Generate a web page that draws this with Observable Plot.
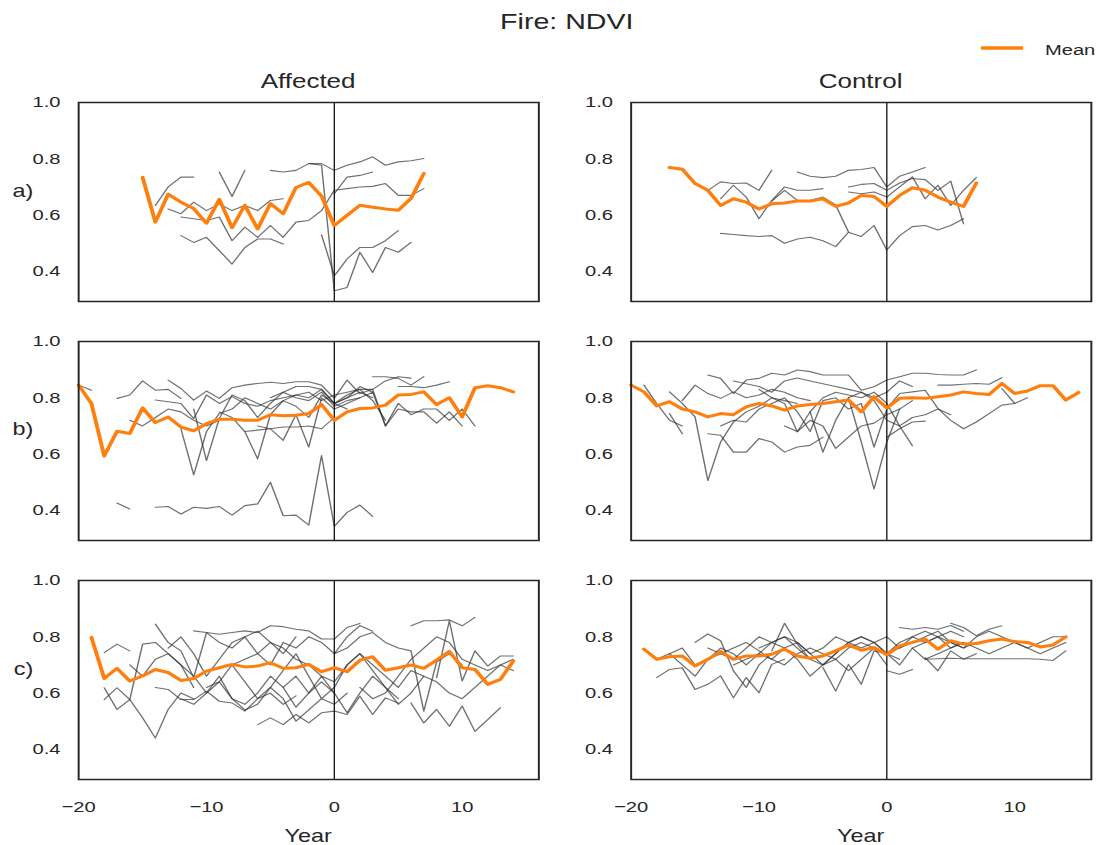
<!DOCTYPE html>
<html><head><meta charset="utf-8">
<script src="https://cdn.jsdelivr.net/npm/d3@7"></script>
<script src="https://cdn.jsdelivr.net/npm/@observablehq/plot@0.6"></script>
<style>
html,body{margin:0;padding:0;background:#fff;overflow:hidden;width:1107px;height:845px;}
#fig{position:absolute;left:0;top:0;width:851.5px;height:845px;transform:scale(1.3,1);transform-origin:0 0;font-family:"Liberation Sans",Arial,sans-serif;color:#262626;}
#fig svg{position:absolute;}
</style></head><body><div id="fig"></div><script>
// ---------- data (year offset relative to fire, NDVI) ----------
const columns = ["Affected", "Control"];
const rowLabels = ["a)", "b)", "c)"];
const xTicks = [-20, -10, 0, 10];
const yTicks = [0.4, 0.6, 0.8, 1.0];

// each series: s = first year, v = yearly NDVI values
const affectedA_mean = {s: -15, v: [0.734,0.575,0.674,0.646,0.623,0.571,0.656,0.555,0.635,0.551,0.641,0.605,0.698,0.716,0.667,0.563,0.599,0.635,0.628,0.622,0.617,0.659,0.748]};
const affectedA_sites = [
  {s: -14, v: [0.634,0.700,0.735,0.735]},
  {s: -9, v: [0.753,0.666,0.759]},
  {s: -13, v: [0.622,0.605,0.646,0.616,0.640,0.616,0.634,0.616,0.652,0.658]},
  {s: -12, v: [0.593,0.587,0.581,0.593,0.509,0.557,0.521,0.563,0.521,0.575,0.581,0.616,0.688,0.694,0.700,0.702,0.712,0.670,0.670,0.694]},
  {s: -12, v: [0.527,0.503,0.521,0.474,0.426,0.485,0.515,0.515,0.497]},
  {s: -5, v: [0.759,0.753,0.759,0.783,0.783,0.759,0.777,0.789,0.807,0.777,0.789,0.793,0.801]},
  {s: -2, v: [0.783,0.777,0.331,0.343,0.468,0.396,0.485,0.468,0.503]},
  {s: -1, v: [0.530,0.384,0.444,0.485,0.485,0.509,0.545]},
  {s: 0, v: [0.676,0.735,0.741,0.753]}
];

const controlA_mean = {s: -17, v: [0.769,0.763,0.712,0.688,0.634,0.658,0.646,0.622,0.640,0.643,0.650,0.650,0.658,0.631,0.643,0.670,0.666,0.631,0.670,0.697,0.688,0.664,0.646,0.631,0.714]};
const controlA_sites = [
  {s: -13, v: [0.535,0.531,0.527,0.524,0.527,0.500,0.515,0.521,0.509,0.488,0.539,0.524,0.563,0.476,0.527,0.559,0.563,0.547,0.563,0.587]},
  {s: -7, v: [0.753,0.738,0.733,0.738,0.759,0.762,0.769,0.700,0.738,0.753,0.769]},
  {s: -14, v: [0.688,0.718,0.712,0.714,0.688,0.759]},
  {s: -13, v: [0.658,0.706,0.664,0.587,0.652,0.700,0.688,0.688,0.694]},
  {s: -9, v: [0.650,0.688,0.652,0.652,0.664,0.636,0.540]},
  {s: -3, v: [0.700,0.709,0.712,0.688,0.714,0.730,0.726,0.688,0.721,0.569]},
  {s: -3, v: [0.682,0.676,0.682,0.664,0.700,0.736,0.658,0.706,0.634,0.688,0.733]}
];

const affectedB_mean = {s: -20, v: [0.845,0.780,0.593,0.681,0.673,0.764,0.712,0.732,0.696,0.683,0.708,0.724,0.724,0.720,0.720,0.740,0.736,0.738,0.744,0.776,0.720,0.750,0.762,0.764,0.774,0.810,0.812,0.821,0.776,0.800,0.732,0.836,0.843,0.836,0.821]};
const affectedB_sites = [
  {s: -17, v: [0.426,0.405]},
  {s: -14, v: [0.411,0.414,0.387,0.411,0.407,0.414,0.383,0.417,0.423,0.500,0.381,0.383,0.348,0.595,0.343,0.393,0.419,0.379]},
  {s: -20, v: [0.845,0.827]},
  {s: -17, v: [0.798,0.810,0.860,0.827,0.830,0.798]},
  {s: -13, v: [0.863,0.833,0.792,0.824,0.798,0.836,0.845,0.851,0.855,0.851,0.857,0.857,0.845,0.798,0.863,0.815,0.830,0.860,0.875,0.870]},
  {s: -14, v: [0.792,0.786,0.780,0.726,0.810,0.780,0.804,0.780,0.770,0.790,0.800,0.810,0.820,0.790,0.810,0.820,0.830,0.790,0.720]},
  {s: -12, v: [0.690,0.526,0.680,0.744,0.760,0.800,0.780,0.760,0.790,0.810,0.800,0.830,0.780,0.800,0.820,0.800]},
  {s: -11, v: [0.760,0.577,0.726,0.810,0.790,0.730,0.780,0.820,0.800,0.790,0.820,0.770,0.790,0.800,0.820,0.700,0.780,0.740,0.760,0.760,0.720,0.760,0.700]},
  {s: -9, v: [0.750,0.730,0.680,0.583,0.740,0.790,0.770,0.730,0.810,0.780,0.760]},
  {s: -6, v: [0.700,0.690,0.649,0.740,0.625,0.800,0.760,0.780,0.800]},
  {s: -7, v: [0.680,0.685,0.690,0.696,0.696,0.700,0.690,0.730]},
  {s: 0, v: [0.780,0.810,0.830,0.830,0.700,0.760,0.750,0.750,0.710,0.750,0.700]},
  {s: 3, v: [0.875,0.875,0.869,0.845,0.875]},
  {s: 5, v: [0.840,0.840,0.836,0.845,0.857]},
  {s: -16, v: [0.720,0.700,0.730,0.760,0.750,0.720,0.700,0.720]},
  {s: -5, v: [0.800,0.820,0.840,0.840,0.830,0.780,0.800,0.840,0.820]}
];

const controlB_mean = {s: -20, v: [0.845,0.821,0.771,0.786,0.760,0.750,0.732,0.744,0.740,0.768,0.780,0.771,0.756,0.771,0.776,0.780,0.786,0.792,0.750,0.804,0.764,0.798,0.800,0.798,0.804,0.810,0.821,0.815,0.812,0.851,0.815,0.824,0.843,0.843,0.792,0.819]};
const controlB_sites = [
  {s: -19, v: [0.845,0.780,0.720,0.700]},
  {s: -17, v: [0.821,0.780,0.732,0.506,0.643,0.714,0.750,0.770,0.800,0.790,0.780]},
  {s: -17, v: [0.744,0.672]},
  {s: -16, v: [0.790,0.845,0.815,0.798,0.821,0.800,0.810,0.830,0.820,0.800,0.790]},
  {s: -14, v: [0.881,0.869,0.815,0.863,0.869,0.887,0.881,0.899,0.893,0.881,0.881,0.881,0.827,0.839,0.863,0.875,0.887,0.887,0.883,0.881,0.881,0.899]},
  {s: -14, v: [0.672,0.667,0.607,0.607,0.655,0.643,0.607,0.625,0.631,0.660]},
  {s: -13, v: [0.700,0.720,0.714,0.760,0.780,0.800,0.750,0.680,0.790,0.800,0.760,0.780,0.625,0.760,0.800]},
  {s: -6, v: [0.750,0.607,0.720,0.800,0.643,0.476,0.643,0.760,0.790]},
  {s: -10, v: [0.830,0.800,0.780,0.679,0.750,0.800,0.820,0.810,0.800,0.820,0.780,0.700,0.630]},
  {s: 0, v: [0.660,0.690,0.714,0.717]},
  {s: 0, v: [0.762,0.815,0.821,0.827,0.762,0.720,0.690,0.714,0.744,0.774,0.780]},
  {s: 4, v: [0.845,0.845,0.848,0.851,0.848,0.871]},
  {s: 9, v: [0.833,0.780,0.800]},
  {s: -12, v: [0.860,0.850,0.840,0.820,0.860,0.870,0.860,0.850,0.840,0.830,0.820,0.800,0.820,0.860,0.840]},
  {s: -3, v: [0.800,0.820,0.790,0.720,0.700,0.730,0.740,0.760,0.740]},
  {s: -8, v: [0.700,0.680,0.720,0.700,0.620,0.660,0.700,0.710,0.740,0.760]}
];

const affectedC_mean = {s: -19, v: [0.798,0.652,0.688,0.643,0.661,0.684,0.673,0.645,0.652,0.678,0.690,0.702,0.693,0.696,0.708,0.688,0.690,0.702,0.676,0.690,0.676,0.717,0.729,0.681,0.690,0.700,0.688,0.717,0.748,0.690,0.684,0.631,0.649,0.714]};
const affectedC_sites = [
  {s: -18, v: [0.744,0.774,0.750]},
  {s: -18, v: [0.577,0.619,0.577,0.512,0.440,0.542,0.600,0.580]},
  {s: -18, v: [0.619,0.542,0.577,0.774,0.780,0.740,0.700,0.620]},
  {s: -14, v: [0.845,0.780,0.750,0.655,0.815,0.780,0.760,0.800,0.820,0.780,0.740,0.800]},
  {s: -11, v: [0.821,0.815,0.809,0.815,0.821,0.815,0.839,0.836,0.827,0.821,0.792,0.792,0.833,0.847]},
  {s: -14, v: [0.620,0.613,0.577,0.577,0.607,0.571,0.565,0.536,0.580,0.600,0.560,0.590]},
  {s: -6, v: [0.488,0.512,0.488,0.524,0.494,0.530,0.536,0.524,0.589,0.524,0.583,0.565]},
  {s: 6, v: [0.839,0.857,0.857,0.860,0.839,0.869]},
  {s: 6, v: [0.565,0.494,0.542,0.482,0.554,0.464,0.506,0.548]},
  {s: 8, v: [0.655,0.857,0.643,0.750,0.696,0.732,0.732]},
  {s: 0, v: [0.740,0.760,0.800,0.815,0.780,0.760,0.750,0.536,0.710,0.740,0.700]},
  {s: -16, v: [0.700,0.660,0.720,0.740,0.700,0.660,0.600,0.640,0.700,0.720,0.740,0.780,0.760,0.720,0.700,0.660,0.600]},
  {s: -10, v: [0.620,0.640,0.580,0.560,0.600,0.660,0.620,0.550,0.600,0.640,0.600,0.530,0.600,0.660,0.620,0.580]},
  {s: -13, v: [0.760,0.800,0.740,0.660,0.720,0.780,0.800,0.740,0.700,0.780,0.760,0.800,0.780,0.740,0.800,0.840,0.820]},
  {s: -8, v: [0.700,0.640,0.580,0.620,0.680,0.740,0.660,0.580,0.620,0.700,0.740,0.680,0.620,0.560,0.600,0.660]},
  {s: -4, v: [0.620,0.660,0.600,0.660,0.640,0.700,0.740,0.700,0.660,0.620,0.680,0.660,0.640,0.600,0.580,0.620,0.660,0.700,0.680]},
  {s: 2, v: [0.620,0.580,0.600,0.660,0.720,0.760,0.800,0.780,0.720,0.700,0.680,0.700,0.720]},
  {s: -12, v: [0.580,0.560,0.600,0.660,0.580,0.540,0.560,0.620,0.580,0.500,0.540,0.580,0.560,0.600]}
];

const controlC_mean = {s: -19, v: [0.756,0.720,0.729,0.732,0.696,0.720,0.748,0.720,0.732,0.732,0.738,0.756,0.732,0.724,0.732,0.750,0.771,0.752,0.762,0.736,0.768,0.780,0.792,0.756,0.786,0.774,0.776,0.786,0.792,0.783,0.780,0.764,0.771,0.800]};
const controlC_sites = [
  {s: -18, v: [0.655,0.684,0.690,0.613,0.631,0.661,0.583,0.655,0.601,0.702,0.720]},
  {s: -15, v: [0.780,0.810,0.786,0.679,0.620,0.700,0.740]},
  {s: -9, v: [0.750,0.848,0.774,0.720]},
  {s: -5, v: [0.691,0.607,0.702,0.631,0.750,0.740,0.720]},
  {s: 0, v: [0.679,0.667,0.684]},
  {s: 3, v: [0.726,0.679,0.750,0.720,0.740]},
  {s: 3, v: [0.720,0.722,0.724,0.722,0.722,0.722,0.722,0.722,0.722,0.720,0.716,0.750]},
  {s: 5, v: [0.848,0.833,0.804,0.827,0.839]},
  {s: 1, v: [0.833,0.827,0.833,0.827,0.840,0.820]},
  {s: -18, v: [0.720,0.740,0.760,0.700,0.720,0.740,0.760,0.780,0.750,0.720,0.760,0.780,0.740,0.700,0.720,0.760,0.780,0.760,0.700]},
  {s: -17, v: [0.740,0.700,0.660,0.720,0.760,0.740,0.700,0.740,0.780,0.800,0.760,0.720,0.700,0.740,0.780,0.800,0.780,0.740]},
  {s: -14, v: [0.760,0.740,0.720,0.760,0.800,0.780,0.760,0.720,0.660,0.700,0.740,0.780,0.800,0.780,0.740,0.760,0.800,0.780,0.800,0.820,0.800]},
  {s: -12, v: [0.700,0.720,0.740,0.720,0.700,0.740,0.760,0.740,0.720,0.680,0.720,0.760,0.740,0.700,0.760,0.780,0.800,0.760,0.780]},
  {s: 0, v: [0.740,0.780,0.800,0.820,0.800,0.780,0.760,0.800,0.820,0.800,0.780,0.760,0.780,0.800,0.800]},
  {s: -10, v: [0.760,0.780,0.800,0.780,0.740,0.760,0.800,0.780,0.760,0.780,0.800,0.760,0.780,0.800,0.820,0.780,0.760,0.780]},
  {s: 2, v: [0.760,0.720,0.740,0.760,0.780,0.760,0.740,0.760,0.780,0.760,0.740,0.760,0.780]}
];

// ---------- layout ----------
const SX = 1.3;                 // horizontal stretch of the original figure
const fig = document.getElementById("fig");
const panelW = 354, panelH = 199, mL = 60, mR = 10, mT = 10;
const colLeft = [60, 485];
const rowTop = [102, 340.5, 580];

const panels = [
  [[affectedA_mean, affectedA_sites], [controlA_mean, controlA_sites]],
  [[affectedB_mean, affectedB_sites], [controlB_mean, controlB_sites]],
  [[affectedC_mean, affectedC_sites], [controlC_mean, controlC_sites]]
];

const expand = (d, id) => d.v.map((v, j) => ({id, year: d.s + j, value: v}));
const fmtX = d => d < 0 ? "\u2212" + Math.abs(d) : String(d);

panels.forEach((row, r) => {
  row.forEach(([mean, sites], c) => {
    const bottom = r === 2;
    const mB = bottom ? 45 : 10;
    const siteRows = sites.flatMap((d, i) => expand(d, i));
    const meanRows = expand(mean, 0);
    const chart = Plot.plot({
      width: panelW + mL + mR,
      height: panelH + mT + mB,
      marginLeft: mL, marginRight: mR, marginTop: mT, marginBottom: mB,
      style: {fontFamily: "'Liberation Sans', Arial, sans-serif", fontSize: "15.5px", color: "#262626", background: "transparent", overflow: "visible"},
      x: {domain: [-20, 16], axis: bottom ? "bottom" : null, ticks: xTicks, tickFormat: fmtX, tickSize: 0, tickPadding: 21, label: null},
      y: {domain: [0.293, 1.0], ticks: yTicks, tickFormat: d3.format(".1f"), tickSize: 0, tickPadding: 14, label: null},
      marks: [
        Plot.line(siteRows, {x: "year", y: "value", z: "id", stroke: "#333", strokeOpacity: 0.7, strokeWidth: 1.1, curve: "linear"}),
        Plot.ruleX([0], {stroke: "#111", strokeWidth: 1}),
        Plot.line(meanRows, {x: "year", y: "value", stroke: "#ff7f0e", strokeWidth: 3, curve: "linear"}),
        Plot.frame({stroke: "#262626", strokeWidth: 1.5})
      ]
    });
    chart.style.left = (colLeft[c] - mL) + "px";
    chart.style.top = (rowTop[r] - mT) + "px";
    fig.appendChild(chart);
  });
});

// ---------- titles, labels, legend ----------
const ov = d3.select(fig).append("svg")
  .attr("width", 851.5).attr("height", 845)
  .style("left", "0px").style("top", "0px")
  .style("font-family", "'Liberation Sans', Arial, sans-serif")
  .attr("fill", "#262626");

ov.append("text").attr("x", 436).attr("y", 29.5).attr("text-anchor", "middle")
  .attr("font-size", 22).text("Fire: NDVI");

columns.forEach((name, c) => {
  const cx = colLeft[c] + panelW / 2;
  ov.append("text").attr("x", cx).attr("y", 88.5).attr("text-anchor", "middle")
    .attr("font-size", 20).text(name);
  ov.append("text").attr("x", cx).attr("y", 842).attr("text-anchor", "middle")
    .attr("font-size", 18).text("Year");
});

rowLabels.forEach((lab, r) => {
  ov.append("text").attr("x", 25.6).attr("y", rowTop[r] + 95).attr("text-anchor", "end")
    .attr("font-size", 18).text(lab);
});

ov.append("line").attr("x1", 754.6).attr("x2", 787).attr("y1", 48).attr("y2", 48)
  .attr("stroke", "#ff7f0e").attr("stroke-width", 3.5);
ov.append("text").attr("x", 803.8).attr("y", 55.5).attr("font-size", 15.5).text("Mean");
</script></body></html>
